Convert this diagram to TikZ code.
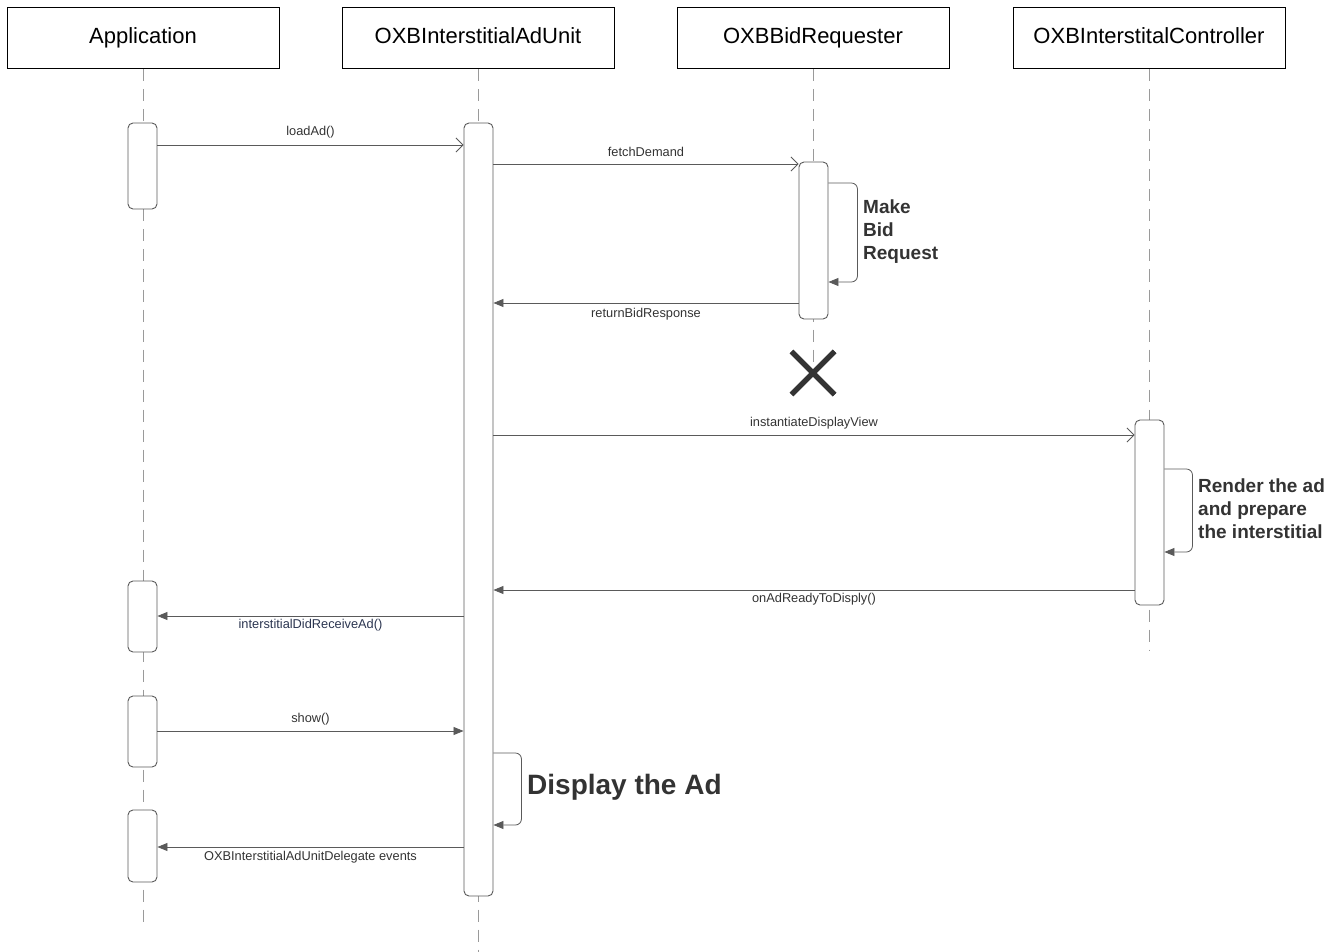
\documentclass[tikz,border=0pt]{standalone}
\usepackage{fontspec}
\setmainfont{Liberation Sans}
\usetikzlibrary{arrows.meta,shapes.misc}
\definecolor{ink}{HTML}{333333}
\definecolor{linegray}{HTML}{5A5A5A}
\definecolor{lifegray}{HTML}{9A9A9A}
\definecolor{navytext}{HTML}{2B3550}

\begin{document}
\begin{tikzpicture}[x=1pt,y=-1pt,
  header/.style={draw=black, line width=1pt, minimum width=272pt, minimum height=61pt,
    font=\fontsize{22}{26}\selectfont, text=black, fill=white, inner sep=0pt,
    text height=16pt, text depth=5pt},
  life/.style={draw=lifegray, line width=0.9pt, dash pattern=on 12pt off 8pt},
  act/.style={draw=linegray, fill=white, rounded corners=5pt, minimum width=29pt,
    line width=0.9pt, inner sep=0pt},
  callopen/.style={draw=linegray, line width=0.8pt, -{Straight Barb[length=7pt,width=14pt]}},
  callfilled/.style={draw=linegray, line width=0.8pt, -{Triangle[length=10pt,width=8pt]}},
  msg/.style={font=\fontsize{12.8}{15}\selectfont, text=ink, inner sep=0pt},
  note/.style={font=\bfseries\fontsize{19}{23}\selectfont, text=ink, align=left,
    anchor=west, inner sep=0pt},
  destroy/.style={cross out, draw=ink, line width=5pt, minimum size=38pt, inner sep=0pt},
]
\useasboundingbox (0,0) rectangle (1339,952);

% participants
\node[header] (app)  at (143,38.5)  {Application};
\node[header] (unit) at (478,38.5)  {OXBInterstitialAdUnit};
\node[header] (bid)  at (813,38.5)  {OXBBidRequester};
\node[header] (ctrl) at (1149,38.5) {OXBInterstitalController};

% lifeline ends
\coordinate (appEnd)  at (143,925);
\coordinate (unitEnd) at (478,952);
\coordinate (ctrlEnd) at (1149,650);
\node[destroy] (bidEnd) at (813,373) {};

\draw[life] (app.south)  -- (appEnd);
\draw[life] (unit.south) -- (unitEnd);
\draw[life] (bid.south)  -- (bidEnd.center);
\draw[life] (ctrl.south) -- (ctrlEnd);
\node[destroy] at (bidEnd) {};

% activations
\node[act, minimum height=86pt]  (appA) at (142.5,166) {};
\node[act, minimum height=71pt]  (appB) at (142.5,616.5) {};
\node[act, minimum height=71pt]  (appC) at (142.5,731.5) {};
\node[act, minimum height=72pt]  (appD) at (142.5,846) {};
\node[act, minimum height=773pt] (unitA) at (478.5,509.5) {};
\node[act, minimum height=157pt] (bidA) at (813.5,240.5) {};
\node[act, minimum height=185pt] (ctrlA) at (1149.5,512.5) {};

% messages
\draw[callopen] (appA.east |- 0,145) -- (unitA.west |- 0,145)
  node[msg, midway, yshift=12.5pt] {loadAd()};
\draw[callopen] (unitA.east |- 0,164) -- (bidA.west |- 0,164)
  node[msg, midway, yshift=12pt] {fetchDemand};
\draw[callfilled, rounded corners=6pt] (bidA.east |- 0,183) -- ++(29,0) -- ++(0,99)
  -- (bidA.east |- 0,282);
\node[note] (makeBid) at (863,231.5) {Make\\Bid\\Request};
\draw[callfilled] (bidA.west |- 0,303) -- (unitA.east |- 0,303)
  node[msg, midway, yshift=-11pt] {returnBidResponse};
\draw[callopen] (unitA.east |- 0,435) -- (ctrlA.west |- 0,435)
  node[msg, midway, yshift=12pt] {instantiateDisplayView};
\draw[callfilled, rounded corners=6pt] (ctrlA.east |- 0,469) -- ++(28,0) -- ++(0,83)
  -- (ctrlA.east |- 0,552);
\node[note] (render) at (1198,509) {Render the ad\\and prepare\\the interstitial};
\draw[callfilled] (ctrlA.west |- 0,590) -- (unitA.east |- 0,590)
  node[msg, midway, yshift=-9.5pt] {onAdReadyToDisply()};
\draw[callfilled] (unitA.west |- 0,616) -- (appB.east |- 0,616)
  node[msg, text=navytext, midway, yshift=-9.5pt] {interstitialDidReceiveAd()};
\draw[callfilled] (appC.east |- 0,731) -- (unitA.west |- 0,731)
  node[msg, midway, yshift=12pt] {show()};
\draw[callfilled, rounded corners=6pt] (unitA.east |- 0,753) -- ++(28,0) -- ++(0,72)
  -- (unitA.east |- 0,825);
\node[note, font=\bfseries\fontsize{28}{32}\selectfont] (display) at (527,787) {Display the Ad};
\draw[callfilled] (unitA.west |- 0,847) -- (appD.east |- 0,847)
  node[msg, midway, yshift=-10pt] {OXBInterstitialAdUnitDelegate events};
\end{tikzpicture}
\end{document}
